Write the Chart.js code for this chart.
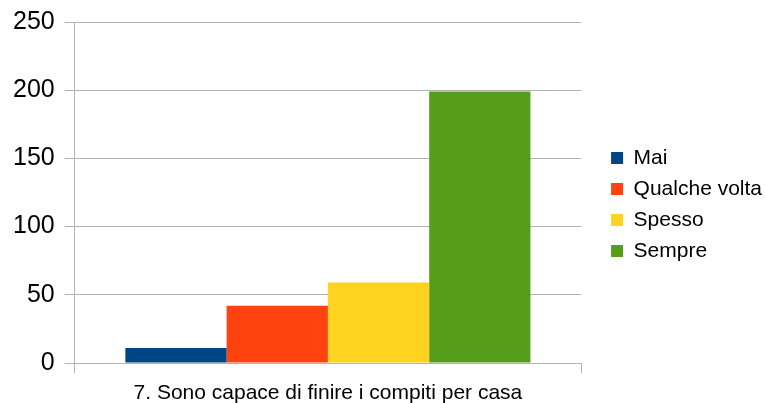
<!DOCTYPE html>
<html>
<head>
<meta charset="utf-8">
<script src="https://cdn.jsdelivr.net/npm/chart.js@4.4.0/dist/chart.umd.min.js"></script>
<style>
  html, body { margin: 0; padding: 0; background: #fff; }
  #wrap { width: 765px; height: 403px; }
</style>
</head>
<body>
<div id="wrap"><canvas id="myChart"></canvas></div>
<script>
var categories = ['7. Sono capace di finire i compiti per casa'];
var seriesNames = ['Mai', 'Qualche volta', 'Spesso', 'Sempre'];
var seriesValues = [[11], [42], [59], [199]];
var seriesColors = ['#004586', '#ff420e', '#ffd320', '#579d1c'];
var yTicks = [0, 50, 100, 150, 200, 250];

// legend gets some extra room on its left, so there is a gap between plot and legend
var legendGap = {
    id: 'legendGap',
    beforeLayout: function(chart) {
        var legend = chart.legend;
        if (legend && !legend._gapWrapped) {
            var fit = legend.fit;
            legend.fit = function() {
                fit.call(this);
                this.width += 13;
            };
            legend._gapWrapped = true;
        }
    },
    afterLayout: function(chart) {
        if (chart.legend) {
            chart.legend.left += 20;
            chart.legend.top -= 8;
            chart.legend.bottom -= 8;
        }
    }
};

var ctx = document.getElementById('myChart').getContext('2d');
var chart = new Chart(ctx, {
    type: 'bar',
    data: {
        labels: categories,
        datasets: seriesNames.map(function(name, i) {
            return {
                label: name,
                data: seriesValues[i],
                backgroundColor: seriesColors[i],
                borderWidth: 0
            };
        })
    },
    plugins: [legendGap],
    options: {
        responsive: true,
        maintainAspectRatio: false,
        animation: false,
        layout: { padding: { left: 3, top: 22, right: 0, bottom: 0 } },
        datasets: { bar: { categoryPercentage: 0.8, barPercentage: 1.0 } },
        plugins: {
            legend: {
                position: 'right',
                labels: {
                    boxWidth: 12,
                    boxHeight: 12,
                    padding: 10,
                    color: '#000',
                    font: { family: 'Liberation Sans', size: 21 }
                }
            },
            tooltip: { enabled: false }
        },
        scales: {
            x: {
                offset: true,
                grid: {
                    offset: true,
                    drawOnChartArea: false,
                    drawTicks: true,
                    tickLength: 10,
                    color: '#b3b3b3',
                    lineWidth: 1
                },
                border: { color: '#b3b3b3' },
                ticks: {
                    color: '#000',
                    padding: 8,
                    font: { family: 'Liberation Sans', size: 21 }
                },
                afterFit: function(scale) { scale.height = 40; }
            },
            y: {
                min: yTicks[0],
                max: yTicks[yTicks.length - 1],
                afterBuildTicks: function(scale) {
                    scale.ticks = yTicks.map(function(v) { return { value: v }; });
                },
                afterFit: function(scale) {
                    scale.paddingTop = 0;
                    scale.paddingBottom = 0;
                },
                grid: {
                    color: '#b3b3b3',
                    lineWidth: 1,
                    tickLength: 10
                },
                border: { color: '#b3b3b3' },
                ticks: {
                    color: '#000',
                    padding: 10,
                    font: { family: 'Liberation Sans', size: 25 }
                }
            }
        }
    }
});
</script>
</body>
</html>
